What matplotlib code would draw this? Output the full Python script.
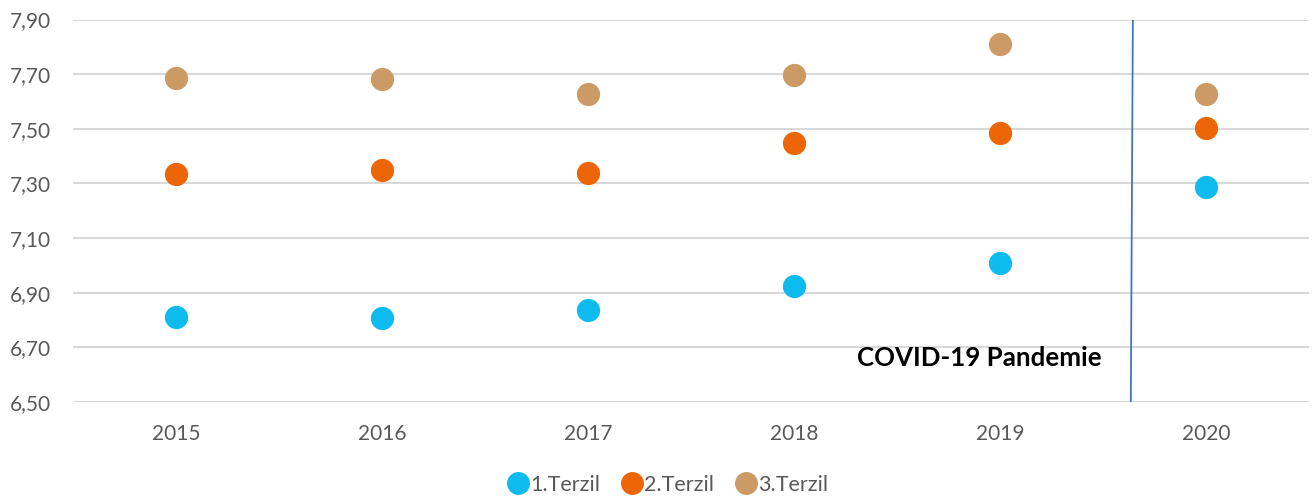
import matplotlib
matplotlib.use("Agg")
import matplotlib.pyplot as plt
from matplotlib.lines import Line2D

years = ["2015", "2016", "2017", "2018", "2019", "2020"]
terzil1 = [6.811, 6.807, 6.837, 6.925, 7.009, 7.287]
terzil2 = [7.334, 7.349, 7.338, 7.448, 7.485, 7.503]
terzil3 = [7.686, 7.682, 7.627, 7.697, 7.810, 7.628]
series_names = ["1.Terzil", "2.Terzil", "3.Terzil"]
colors = ["#0DBBEF", "#EC6608", "#CC9A64"]
yticks = [6.50, 6.70, 6.90, 7.10, 7.30, 7.50, 7.70, 7.90]
annotation = "COVID-19 Pandemie"

plt.rcParams['font.family'] = ['Lato', 'DejaVu Sans']

fig = plt.figure(figsize=(13.15, 4.97), dpi=100)
ax = fig.add_axes([73/1315, 1-402/497, (1309-73)/1315, (402-19.5)/497])

x = list(range(len(years)))
for vals, name, c in zip([terzil1, terzil2, terzil3], series_names, colors):
    ax.scatter(x, vals, s=280, color=c, zorder=3, linewidths=0, label=name)

ax.set_xlim(-0.5, len(years) - 0.5)
ax.set_ylim(6.50, 7.90)
ax.set_yticks(yticks)
ax.set_yticklabels([f"{v:.2f}".replace(".", ",") for v in yticks])
ax.set_xticks(x)
ax.set_xticklabels(years)
ax.tick_params(axis='both', length=0, labelsize=15, colors="#595959")
ax.tick_params(axis='y', pad=16)
ax.tick_params(axis='x', pad=16)
ax.grid(axis='y', color="#D9D9D9", linewidth=1.5, zorder=0)
ax.set_axisbelow(True)
for s in ax.spines.values():
    s.set_visible(False)

# COVID separator line
ax.plot([4.645, 4.635], [7.895, 6.50], color="#4472C4", linewidth=1.3, zorder=2)
ax.text(4.495, 6.66, annotation, fontsize=18.6, fontweight='bold', color="black",
        ha='right', va='center')

handles = [Line2D([0], [0], marker='o', linestyle='none', markersize=16.5,
                  markerfacecolor=c, markeredgewidth=0) for c in colors]
fig.legend(handles, series_names, loc='center', bbox_to_anchor=(668/1315, 1-485/497),
           ncol=3, frameon=False, fontsize=15.5, handletextpad=0.05, columnspacing=1.0,
           labelcolor="#595959", handlelength=1.0)

fig.savefig("out.png", dpi=100)
